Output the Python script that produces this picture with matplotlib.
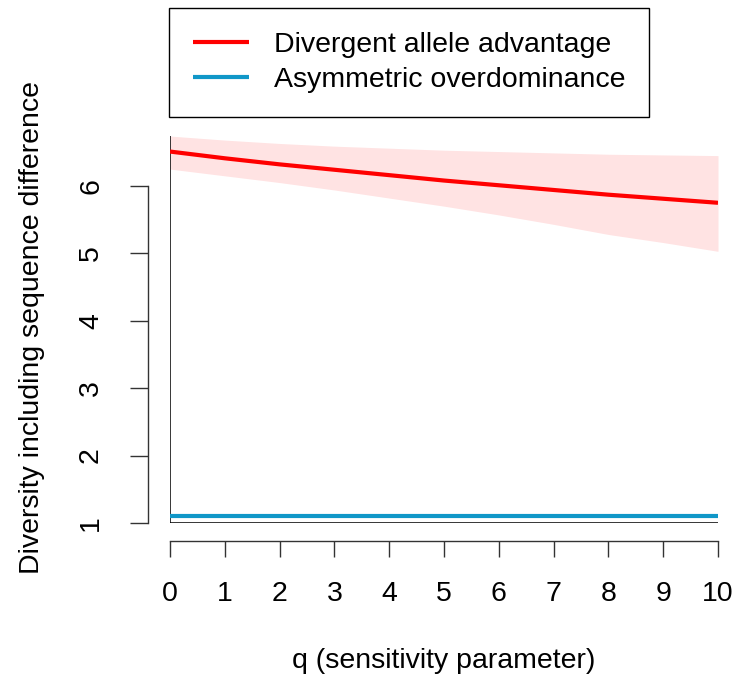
import numpy as np
import matplotlib.pyplot as plt

plt.rcParams['font.family'] = ['Liberation Sans', 'DejaVu Sans']

# sensitivity parameter grid and model outputs
q = np.arange(0, 11)
daa_mean = [6.51, 6.41, 6.32, 6.24, 6.16, 6.08, 6.01, 5.94, 5.87, 5.81, 5.75]
daa_upper = [6.74, 6.68, 6.63, 6.59, 6.56, 6.53, 6.51, 6.49, 6.47, 6.46, 6.45]
daa_lower = [6.25, 6.15, 6.05, 5.94, 5.82, 5.70, 5.57, 5.43, 5.28, 5.16, 5.03]
ao_mean = [1.10] * 11
ao_upper = [1.12] * 11
ao_lower = [1.08] * 11

labels = ["Divergent allele advantage", "Asymmetric overdominance"]
xticks = list(range(0, 11))
yticks = [1, 2, 3, 4, 5, 6]

FS = 20.5
W, H = 741, 679
fig = plt.figure(figsize=(W / 100, H / 100), dpi=100)
ax = fig.add_axes([170 / W, (H - 523) / H, (718 - 170) / W, (523 - 132) / H])
ax.set_xlim(0, 10)
ax.set_ylim(1, 6.8)

red = "#FF0000"
blue = "#1097C8"

ax.fill_between(q, daa_lower, daa_upper, color="#FFE3E3", lw=0, zorder=1)
ax.fill_between(q, ao_lower, ao_upper, color="#A8DDF0", lw=0, zorder=1)

# L-shaped frame at the origin
ax.vlines(0, 1, daa_upper[0], color="black", lw=1.1, zorder=2)
ax.hlines(1, 0, 10, color="black", lw=1.1, zorder=2)

ax.plot(q, daa_mean, color=red, lw=3, solid_capstyle="butt", zorder=3, label=labels[0])
ax.plot(q, ao_mean, color=blue, lw=3, solid_capstyle="butt", zorder=3, label=labels[1])

for s in ["top", "right"]:
    ax.spines[s].set_visible(False)
ax.spines["left"].set_position(("outward", 15.5))
ax.spines["left"].set_bounds(1, 6)
ax.spines["bottom"].set_position(("outward", 13))
ax.spines["bottom"].set_bounds(0, 10)
for s in ["left", "bottom"]:
    ax.spines[s].set_linewidth(1.0)
    ax.spines[s].set_color("#333333")

ax.set_xticks(xticks)
ax.set_yticks(yticks)
ax.set_yticklabels([str(v) for v in yticks], rotation=90, va="center")
ax.tick_params(axis="x", length=11.5, width=1.0, color="#333333", pad=17, labelsize=FS)
ax.tick_params(axis="y", length=13, width=1.0, color="#333333", pad=19, labelsize=FS)

ax.set_xlabel("q (sensitivity parameter)", fontsize=FS, labelpad=30)
ax.set_ylabel("Diversity including sequence difference", fontsize=FS, labelpad=24)

leg = ax.legend(loc="upper left", bbox_to_anchor=(169 / W, 1 - 8 / H),
                bbox_transform=fig.transFigure, borderaxespad=0, fancybox=False,
                edgecolor="black", framealpha=1, fontsize=FS, handlelength=1.95,
                handletextpad=0.88, borderpad=0.85, labelspacing=0.3)
leg.get_frame().set_linewidth(1.0)
for line in leg.get_lines():
    line.set_linewidth(3)

fig.savefig("out.png", dpi=100)
